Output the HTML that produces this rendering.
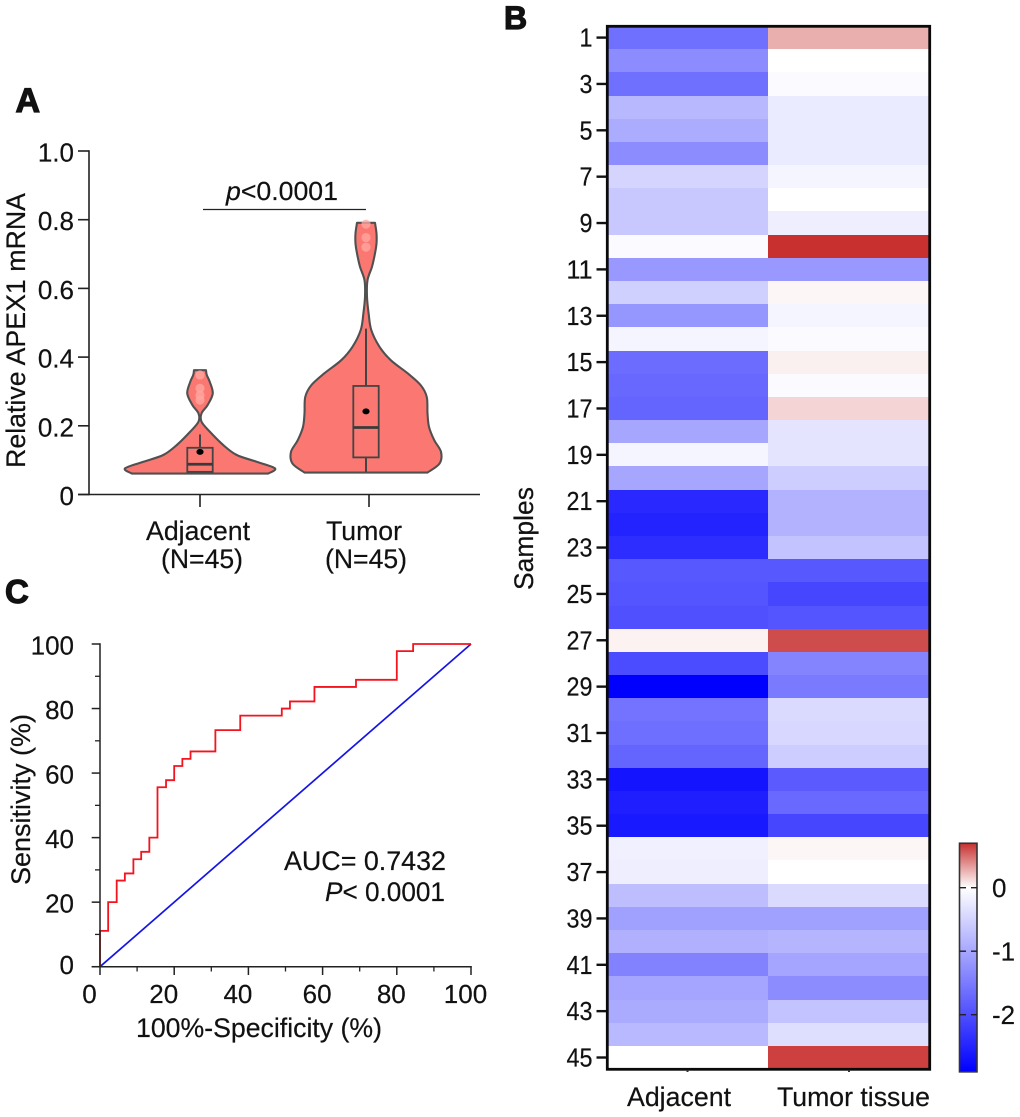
<!DOCTYPE html>
<html lang="en">
<head>
<meta charset="utf-8">
<title>APEX1 mRNA expression figure</title>
<style>
html,body{margin:0;padding:0;background:#fff;}
svg{display:block;}
text{font-family:"Liberation Sans",Arial,sans-serif;fill:#111;stroke:#111;stroke-width:0.2px;}
</style>
</head>
<body>
<svg id="figure" xmlns="http://www.w3.org/2000/svg" width="1020" height="1117" viewBox="0 0 1020 1117">
  <defs>
    <linearGradient id="cbar-gradient" x1="0" y1="0" x2="0" y2="1"></linearGradient>
  </defs>
  <rect x="0" y="0" width="1020" height="1117" fill="#fff"/>

  <g id="panel-a">
    <text x="15.5" y="112" font-size="34" font-weight="700" style="stroke-width:1.2px">A</text>
    <text transform="translate(25,468) rotate(-90)" font-size="26.7" textLength="275" lengthAdjust="spacingAndGlyphs">Relative APEX1 mRNA</text>
    <g id="a-marks"></g>
    <g id="a-axes"></g>
    <line x1="203" y1="209.5" x2="366" y2="209.5" stroke="#222" stroke-width="1.2"/>
    <text x="226" y="200" font-size="26" textLength="112" lengthAdjust="spacingAndGlyphs"><tspan font-style="italic">p</tspan>&lt;0.0001</text>
    <text x="146" y="540" font-size="26.7" textLength="104" lengthAdjust="spacingAndGlyphs">Adjacent</text>
    <text x="161" y="568" font-size="26.7" textLength="82" lengthAdjust="spacingAndGlyphs">(N=45)</text>
    <text x="326" y="540" font-size="26.7" textLength="76" lengthAdjust="spacingAndGlyphs">Tumor</text>
    <text x="325" y="568" font-size="26.7" textLength="82" lengthAdjust="spacingAndGlyphs">(N=45)</text>
  </g>

  <g id="panel-c">
    <text x="5" y="603" font-size="33" font-weight="700" style="stroke-width:1.2px">C</text>
    <text transform="translate(30,885) rotate(-90)" font-size="27" textLength="171" lengthAdjust="spacingAndGlyphs">Sensitivity (%)</text>
    <text x="136" y="1037" font-size="26.7" textLength="246" lengthAdjust="spacingAndGlyphs">100%-Specificity (%)</text>
    <g id="c-marks"></g>
    <g id="c-axes"></g>
    <text x="284" y="870" font-size="26.9" textLength="162" lengthAdjust="spacingAndGlyphs">AUC= 0.7432</text>
    <text x="325" y="901" font-size="26.9" textLength="120" lengthAdjust="spacingAndGlyphs"><tspan font-style="italic">P</tspan>&lt; 0.0001</text>
  </g>

  <g id="panel-b">
    <text x="504" y="29" font-size="32" font-weight="700" style="stroke-width:1.2px">B</text>
    <text transform="translate(533,590) rotate(-90)" font-size="26.7" textLength="103" lengthAdjust="spacingAndGlyphs">Samples</text>
    <g id="b-cells"></g>
    <g id="b-axes"></g>
    <rect x="607.3" y="26.3" width="322.4" height="1043" fill="none" stroke="#0a0a0a" stroke-width="2.8"/>
    <line x1="687.5" y1="1070" x2="687.5" y2="1072" stroke="#333" stroke-width="2"/>
    <line x1="849" y1="1070" x2="849" y2="1072" stroke="#333" stroke-width="2"/>
    <text x="627" y="1106" font-size="26.7" textLength="104" lengthAdjust="spacingAndGlyphs">Adjacent</text>
    <text x="777" y="1106" font-size="26.7" textLength="153" lengthAdjust="spacingAndGlyphs">Tumor tissue</text>
    <g id="b-colorbar"></g>
  </g>
</svg>
<script>
// Panel A: violin data (value along y axis, relative density)
var adjacentViolinValues = [0.061,0.076,0.095,0.115,0.144,0.183,0.212,0.236,0.260,0.294,0.328,0.348,0.362];
var adjacentViolinDensity = [0.91,1.00,0.76,0.49,0.31,0.13,0.02,0.02,0.10,0.17,0.13,0.09,0.08];
var tumorViolinValues = [0.064,0.090,0.124,0.158,0.197,0.236,0.284,0.318,0.352,0.391,0.430,0.479,0.527,0.576,0.624,0.663,0.702,0.731,0.760,0.791];
var tumorViolinDensity = [0.82,0.98,1.00,0.91,0.84,0.82,0.81,0.73,0.56,0.33,0.18,0.07,0.035,0.013,0.02,0.08,0.12,0.14,0.14,0.12];
var adjacentBox = {q1:0.066, median:0.088, q3:0.136, whiskerLow:0.066, whiskerHigh:0.175, mean:0.124};
var tumorBox = {q1:0.108, median:0.195, q3:0.316, whiskerLow:0.066, whiskerHigh:0.483, mean:0.242};
var adjacentOutliers = [0.348,0.309,0.289,0.275];
var tumorOutliers = [0.787,0.748,0.720];
var violinYTicks = [0,0.2,0.4,0.6,0.8,1.0];
var violinYTickLabels = ["0","0.2","0.4","0.6","0.8","1.0"];

// Panel C: ROC steps
var rocFpr = [0,0,2.2,2.2,4.5,4.5,6.7,6.7,9,9,11.1,11.1,13.3,13.3,15.5,15.5,17.8,17.8,20,20,22.2,22.2,24.4,24.4,31.1,31.1,37.8,37.8,49,49,51.2,51.2,57.8,57.8,69,69,80,80,84.4,84.4,100];
var rocTpr = [0,11.1,11.1,20,20,26.7,26.7,28.9,28.9,33.3,33.3,35.6,35.6,40,40,55.6,55.6,57.8,57.8,62.2,62.2,64.4,64.4,66.7,66.7,73.3,73.3,77.8,77.8,80,80,82.2,82.2,86.7,86.7,88.9,88.9,97.8,97.8,100,100];
var referenceFpr = [0,100];
var referenceTpr = [0,100];
var rocTicks = [0,20,40,60,80,100];
var rocMinorTicks = [10,30,50,70,90];

// Panel B: heatmap values, one per sample
var adjacentValues = [-1.63,-1.31,-1.63,-0.81,-0.94,-1.31,-0.49,-0.63,-0.63,-0.06,-1.17,-0.53,-1.19,-0.11,-1.67,-1.72,-1.76,-1.01,-0.11,-1.01,-2.45,-2.50,-2.39,-1.90,-1.93,-1.99,0.044,-2.05,-2.90,-1.59,-1.65,-1.76,-2.67,-2.56,-2.62,-0.17,-0.19,-0.74,-1.08,-0.90,-1.42,-1.02,-0.97,-0.80,0];
var tumorValues = [0.274,0,-0.06,-0.23,-0.23,-0.23,-0.11,0,-0.19,0.70,-1.17,0.03,-0.11,-0.06,0.05,-0.06,0.145,-0.31,-0.31,-0.57,-0.88,-0.88,-0.68,-1.90,-2.10,-1.93,0.605,-1.40,-1.51,-0.42,-0.45,-0.57,-1.88,-1.71,-2.10,0.03,0,-0.42,-1.08,-0.85,-1.02,-1.31,-0.68,-0.38,0.646];
var sampleNumbers = [];
for (var s = 1; s <= 45; s++) { sampleNumbers.push(s); }
var colorbarTicks = [0,-1,-2];

var SVG_NS = "http://www.w3.org/2000/svg";
function make(tag, attrs, parent, txt) {
  var e = document.createElementNS(SVG_NS, tag);
  for (var k in attrs) { e.setAttribute(k, attrs[k]); }
  if (txt !== undefined) { e.textContent = txt; }
  parent.appendChild(e);
  return e;
}

/* ---------- Panel A ---------- */
var aMarks = document.getElementById("a-marks");
var aAxes = document.getElementById("a-axes");
function ayScale(v) { return 494.5 - v * 343.5; }
function densityWidth(d) { return d * 75; }
function smoothSegments(pts) {
  var out = "";
  for (var i = 0; i < pts.length - 1; i++) {
    var p0 = pts[Math.max(i - 1, 0)], p1 = pts[i], p2 = pts[i + 1], p3 = pts[Math.min(i + 2, pts.length - 1)];
    var c1x = p1[0] + (p2[0] - p0[0]) / 6, c1y = p1[1] + (p2[1] - p0[1]) / 6;
    var c2x = p2[0] - (p3[0] - p1[0]) / 6, c2y = p2[1] - (p3[1] - p1[1]) / 6;
    out += " C" + c1x.toFixed(2) + " " + c1y.toFixed(2) + " " + c2x.toFixed(2) + " " + c2y.toFixed(2) + " " + p2[0].toFixed(2) + " " + p2[1].toFixed(2);
  }
  return out;
}
function violinPath(cx, values, density) {
  var right = [], left = [];
  for (var i = 0; i < values.length; i++) {
    right.push([cx + densityWidth(density[i]), ayScale(values[i])]);
  }
  for (var j = values.length - 1; j >= 0; j--) {
    left.push([cx - densityWidth(density[j]), ayScale(values[j])]);
  }
  return "M" + right[0][0].toFixed(2) + " " + right[0][1].toFixed(2) + smoothSegments(right) +
    " L" + left[0][0].toFixed(2) + " " + left[0][1].toFixed(2) + smoothSegments(left) + " Z";
}
function drawViolin(key, cx, values, density, box, outliers) {
  var boxHalf = 12.7;
  var v = make("path", {d: violinPath(cx, values, density), fill: "#fb7872", stroke: "#505050", "stroke-width": 2.1, "stroke-linejoin": "round"}, aMarks);
  
  
  outliers.forEach(function (o) {
    var c = make("circle", {cx: cx, cy: ayScale(o), r: 4.6, fill: "#ffa8a2", opacity: 0.75}, aMarks);
    
    
  });
  var w = make("line", {x1: cx, x2: cx, y1: ayScale(box.whiskerLow), y2: ayScale(box.whiskerHigh), stroke: "#444", "stroke-width": 2}, aMarks);
  
  
  var b = make("rect", {x: cx - boxHalf, width: boxHalf * 2, y: ayScale(box.q3), height: ayScale(box.q1) - ayScale(box.q3), fill: "#fb7872", stroke: "#444", "stroke-width": 1.8}, aMarks);
  
  
  var m = make("line", {x1: cx - boxHalf, x2: cx + boxHalf, y1: ayScale(box.median), y2: ayScale(box.median), stroke: "#3a3a3a", "stroke-width": 2.8}, aMarks);
  
  
  var mean = make("ellipse", {cx: cx, cy: ayScale(box.mean), rx: 3.6, ry: 3, fill: "#000"}, aMarks);
  
  
}
drawViolin("adjacent", 200, adjacentViolinValues, adjacentViolinDensity, adjacentBox, adjacentOutliers);
drawViolin("tumor", 366, tumorViolinValues, tumorViolinDensity, tumorBox, tumorOutliers);

var aYLine = make("line", {x1: 89, x2: 89, y1: ayScale(1) - 0.8, y2: ayScale(0) + 0.8, stroke: "#222", "stroke-width": 1.6}, aAxes);


var aXLine = make("line", {x1: 78, x2: 480, y1: ayScale(0), y2: ayScale(0), stroke: "#222", "stroke-width": 1.6}, aAxes);


violinYTicks.forEach(function (t, i) {
  var tk = make("line", {x1: 78, x2: 89, y1: ayScale(t), y2: ayScale(t), stroke: "#222", "stroke-width": 1.6}, aAxes);
  
  
  var lb = make("text", {x: 74, y: ayScale(t) + 10.5, "font-size": 26, "text-anchor": "end"}, aAxes, violinYTickLabels[i]);
  
  
});
var tickAdj = make("line", {x1: 200, x2: 200, y1: ayScale(0), y2: 507, stroke: "#222", "stroke-width": 1.6}, aAxes);


var tickTum = make("line", {x1: 369, x2: 369, y1: ayScale(0), y2: 507, stroke: "#222", "stroke-width": 1.6}, aAxes);



/* ---------- Panel C ---------- */
var cMarks = document.getElementById("c-marks");
var cAxes = document.getElementById("c-axes");
function cxScale(v) { return 100 + v * 3.71; }
function cyScale(v) { return 966.7 - v * 3.227; }
function polyPoints(xs, ys) {
  return xs.map(function (x, i) { return cxScale(x).toFixed(2) + "," + cyScale(ys[i]).toFixed(2); }).join(" ");
}
var refLine = make("polyline", {points: polyPoints(referenceFpr, referenceTpr), fill: "none", stroke: "#1414e6", "stroke-width": 1.7}, cMarks);


var rocLine = make("polyline", {points: polyPoints(rocFpr, rocTpr), fill: "none", stroke: "#f2141e", "stroke-width": 1.8}, cMarks);



var cY = make("line", {x1: cxScale(0), x2: cxScale(0), y1: cyScale(100) - 0.8, y2: cyScale(0) + 0.8, stroke: "#222", "stroke-width": 1.5}, cAxes);


var cX = make("line", {x1: 91.7, x2: cxScale(100) + 0.8, y1: cyScale(0), y2: cyScale(0), stroke: "#222", "stroke-width": 1.5}, cAxes);


rocTicks.forEach(function (t) {
  var yt = make("line", {x1: 91.7, x2: 100, y1: cyScale(t), y2: cyScale(t), stroke: "#222", "stroke-width": 1.5}, cAxes);
  
  
  var yl = make("text", {x: 74, y: cyScale(t) + (t === 0 ? 7.5 : 10.5), "font-size": 26, "text-anchor": "end"}, cAxes, String(t));
  
  
  var xt = make("line", {x1: cxScale(t), x2: cxScale(t), y1: cyScale(0), y2: 975, stroke: "#222", "stroke-width": 1.5}, cAxes);
  
  
  var xl = make("text", {x: cxScale(t) + (t < 50 ? -10.5 : -5.5), y: 1003, "font-size": 26, "text-anchor": "middle"}, cAxes, String(t));
  
  
});
rocMinorTicks.forEach(function (t) {
  var ym = make("line", {x1: 95, x2: 100, y1: cyScale(t), y2: cyScale(t), stroke: "#222", "stroke-width": 1.3}, cAxes);
  
  
  var xm = make("line", {x1: cxScale(t), x2: cxScale(t), y1: cyScale(0), y2: 971.5, stroke: "#222", "stroke-width": 1.3}, cAxes);
  
  
});

/* ---------- Panel B ---------- */
var bCells = document.getElementById("b-cells");
var bAxes = document.getElementById("b-axes");
var bColorbar = document.getElementById("b-colorbar");
var rowH = 23.18;
function rowTop(i) { return 26 + i * rowH; }
function rowCenter(n) { return rowTop(n - 1) + rowH / 2; }
function heatColor(v) {
  var r, g, b;
  if (v < 0) {
    var t = Math.min(1, -v / 2.9);
    r = 255 * (1 - t); g = r; b = 255;
  } else {
    var u = Math.min(1, v / 0.7);
    r = 255 - 55 * u; g = 255 - 207 * u; b = g;
  }
  return "rgb(" + Math.round(r) + "," + Math.round(g) + "," + Math.round(b) + ")";
}
function drawColumn(key, x, w, values) {
  values.forEach(function (v, i) {
    var top = Math.round(rowTop(i));
    var bottom = Math.round(rowTop(i + 1));
    var c = make("rect", {x: x, y: top, width: w, height: bottom - top, fill: heatColor(v), "shape-rendering": "crispEdges"}, bCells);
    
    
  });
}
drawColumn("adjacent", 608, 160, adjacentValues);
drawColumn("tumor", 768, 161, tumorValues);

sampleNumbers.forEach(function (n) {
  if (n % 2 === 0) { return; }
  var tk = make("line", {x1: 596.5, x2: 607, y1: rowCenter(n), y2: rowCenter(n), stroke: "#111", "stroke-width": 2.4}, bAxes);
  
  
  var lb = make("text", {x: 592.5, y: rowCenter(n) + 9, "font-size": 25.5, "text-anchor": "end", textLength: 13 * String(n).length, lengthAdjust: "spacingAndGlyphs"}, bAxes, String(n));
  
  
});

function cbScale(v) { return 887.7 - v * 63.5; }
var cbMax = 0.7, cbMin = -2.9;
var grad = document.getElementById("cbar-gradient");
[cbMax, 0.35, 0, -1, -2, cbMin].forEach(function (v) {
  make("stop", {offset: (cbScale(v) - cbScale(cbMax)) / (cbScale(cbMin) - cbScale(cbMax)), "stop-color": heatColor(v)}, grad);
});
var cbRect = make("rect", {x: 959.5, y: cbScale(cbMax), width: 17.5, height: cbScale(cbMin) - cbScale(cbMax), fill: "url(#cbar-gradient)", stroke: "#333", "stroke-width": 1.6}, bColorbar);


colorbarTicks.forEach(function (t) {
  var d1 = make("line", {x1: 959.5, x2: 966, y1: cbScale(t), y2: cbScale(t), stroke: "#222", "stroke-width": 1.4}, bColorbar);
  
  
  var d2 = make("line", {x1: 971, x2: 977, y1: cbScale(t), y2: cbScale(t), stroke: "#222", "stroke-width": 1.4}, bColorbar);
  
  
  var lb = make("text", {x: 992, y: cbScale(t) + 9.5, "font-size": 26}, bColorbar, String(t));
  
  
});
</script>
</body>
</html>
